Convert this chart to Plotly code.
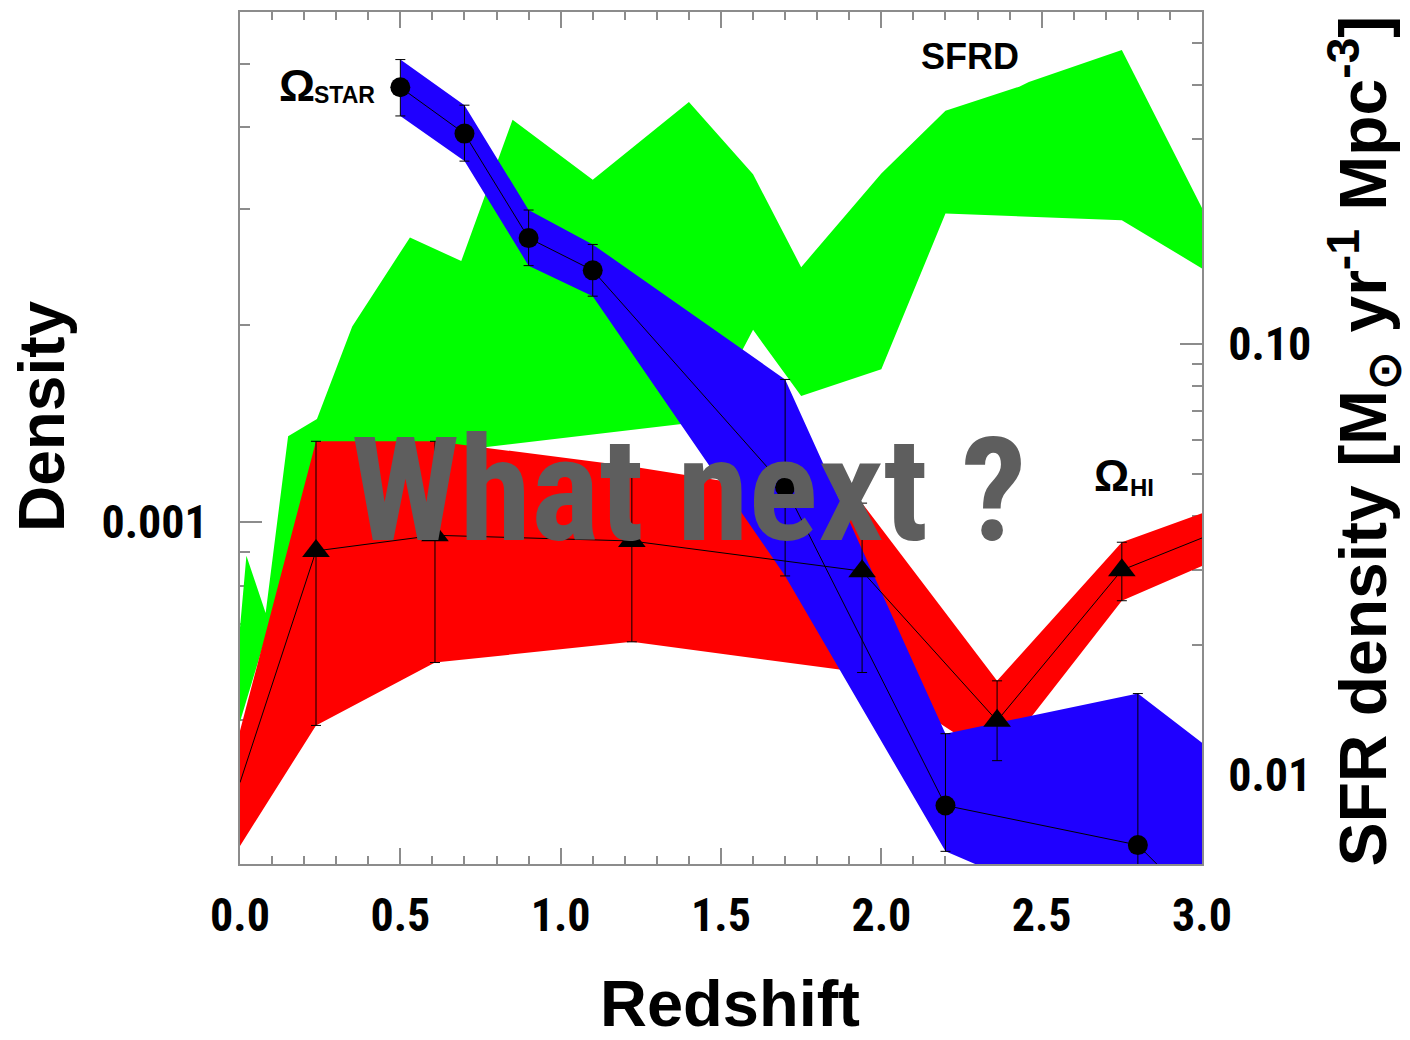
import plotly.graph_objects as go

# ---------------- data ----------------
# Omega_HI (red band, left "Density" axis)
hi_z   = [0.0, 0.237, 0.608, 1.222, 1.940, 2.361, 2.750, 3.0]
hi_mid = [0.000401, 0.000904, 0.000955, 0.000936, 0.000842, 0.000498, 0.000845, 0.000946]
hi_up  = [0.000481, 0.001328, 0.001328, 0.001216, 0.001069, 0.000573, 0.000932, 0.001032]
hi_lo  = [0.000321, 0.000490, 0.000611, 0.000657, 0.000590, 0.000433, 0.000759, 0.000857]
hi_first, hi_last = 1, 7          # points drawn with markers / error bars

# Omega_STAR (blue band, left "Density" axis)
star_z   = [0.5, 0.7, 0.9, 1.1, 1.7, 2.2, 2.8, 3.0]
star_mid = [0.00460, 0.00391, 0.00271, 0.00242, 0.00113, 0.000370, 0.000322, 0.000257]
star_up  = [0.00507, 0.00432, 0.00299, 0.00265, 0.00165, 0.000476, 0.000548, 0.000461]
star_lo  = [0.00416, 0.00355, 0.00246, 0.00221, 0.000828, 0.000315, 0.000236, 0.000214]
star_first, star_last = 0, 7

# SFRD (green band, right "SFR density" axis)
sfrd_up_z = [0.0, 0.02, 0.08, 0.15, 0.24, 0.35, 0.53, 0.69, 0.85, 1.10,
             1.40, 1.60, 1.75, 2.00, 2.20, 2.43, 2.46, 2.75, 3.00]
sfrd_up   = [0.0220, 0.0323, 0.0238, 0.0612, 0.0671, 0.110, 0.177, 0.156, 0.332, 0.241,
             0.365, 0.248, 0.151, 0.249, 0.348, 0.396, 0.406, 0.482, 0.207]
sfrd_lo_z = [0.0, 0.24, 1.45, 1.60, 1.75, 2.00, 2.20, 2.75, 3.00]
sfrd_lo   = [0.0133, 0.0519, 0.0663, 0.108, 0.0758, 0.0875, 0.201, 0.194, 0.150]

x_ticks = [0.0, 0.5, 1.0, 1.5, 2.0, 2.5, 3.0]
x_ticktext = ["0.0", "0.5", "1.0", "1.5", "2.0", "2.5", "3.0"]
dens_ticks = [0.001]
dens_ticktext = ["0.001"]
dens_minor = [0.0003, 0.0004, 0.0005, 0.0006, 0.0007, 0.0008, 0.0009,
              0.002, 0.003, 0.004, 0.005]
sfr_ticks = [0.01, 0.1]
sfr_ticktext = ["0.01", "0.10"]
sfr_minor = [0.007, 0.008, 0.009, 0.02, 0.03, 0.04, 0.05, 0.06, 0.07, 0.08, 0.09,
             0.2, 0.3, 0.4, 0.5]

# ---------------- styles ----------------
GREEN = "#00ff00"
RED = "#ff0000"
BLUE = "#1f00ff"
AXC = "#8c8c8c"
NARROW = "Roboto Condensed, Open Sans Condensed, DejaVu Sans Condensed, sans-serif"
SANS = "Liberation Sans, Arial, Helvetica, sans-serif"

fig = go.Figure()

# green SFRD band on the primary axis (drawn underneath)
fig.add_trace(go.Scatter(
    x=sfrd_up_z + sfrd_lo_z[::-1], y=sfrd_up + sfrd_lo[::-1],
    fill="toself", fillcolor=GREEN, mode="lines", line=dict(width=0),
    hoverinfo="skip", showlegend=False, xaxis="x", yaxis="y"))

def band(z, up, lo, color):
    fig.add_trace(go.Scatter(
        x=z + z[::-1], y=up + lo[::-1], fill="toself", fillcolor=color,
        mode="lines", line=dict(width=0), hoverinfo="skip",
        showlegend=False, xaxis="x", yaxis="y2"))

band(hi_z, hi_up, hi_lo, RED)
band(star_z, star_up, star_lo, BLUE)

def centre(z, mid, up, lo, a, b, symbol, size):
    fig.add_trace(go.Scatter(
        x=z, y=mid, mode="lines", line=dict(color="black", width=1),
        hoverinfo="skip", showlegend=False, xaxis="x", yaxis="y2"))
    zs, ms, us, ls = z[a:b], mid[a:b], up[a:b], lo[a:b]
    fig.add_trace(go.Scatter(
        x=zs, y=ms, mode="markers",
        marker=dict(symbol=symbol, size=size, color="black"),
        error_y=dict(type="data", symmetric=False,
                     array=[u - m for u, m in zip(us, ms)],
                     arrayminus=[m - l for m, l in zip(ms, ls)],
                     color="black", thickness=1, width=5),
        hoverinfo="skip", showlegend=False, xaxis="x", yaxis="y2"))

centre(hi_z, hi_mid, hi_up, hi_lo, hi_first, hi_last, "triangle-up", 24)
centre(star_z, star_mid, star_up, star_lo, star_first, star_last, "circle", 20)

tickfont = dict(family=NARROW, size=46, color="black", weight="bold")

fig.update_layout(
    width=1410, height=1040,
    margin=dict(l=240, r=208, t=10, b=176),
    paper_bgcolor="white", plot_bgcolor="white",
    showlegend=False,
    xaxis=dict(
        range=[0, 3], showgrid=False, zeroline=False,
        showline=True, linecolor=AXC, linewidth=2, mirror="ticks",
        ticks="inside", ticklen=16, tickwidth=1.5, tickcolor=AXC,
        tickvals=x_ticks, ticktext=x_ticktext, tickfont=tickfont,
        ticklabelstandoff=10, layer="below traces",
        minor=dict(dtick=0.1, ticks="inside", ticklen=8, tickwidth=1.5,
                   tickcolor=AXC, showgrid=False),
        anchor="y"),
    yaxis=dict(
        type="log", side="right",
        range=[-2.206, -0.229], showgrid=False, zeroline=False,
        showline=True, linecolor=AXC, linewidth=2,
        ticks="inside", ticklen=22, tickwidth=1.5, tickcolor=AXC,
        tickvals=sfr_ticks, ticktext=sfr_ticktext, tickfont=tickfont,
        ticklabelstandoff=15, layer="below traces",
        minor=dict(tickmode="array", tickvals=sfr_minor, ticks="inside",
                   ticklen=10, tickwidth=1.5, tickcolor=AXC, showgrid=False),
        anchor="x"),
    yaxis2=dict(
        type="log", side="left", overlaying="y",
        range=[-3.521, -2.2225], showgrid=False, zeroline=False,
        showline=True, linecolor=AXC, linewidth=2,
        ticks="inside", ticklen=22, tickwidth=1.5, tickcolor=AXC,
        tickvals=dens_ticks, ticktext=dens_ticktext, tickfont=tickfont,
        ticklabelstandoff=21, layer="below traces",
        minor=dict(tickmode="array", tickvals=dens_minor, ticks="inside",
                   ticklen=10, tickwidth=1.5, tickcolor=AXC, showgrid=False),
        anchor="x"),
)

def note(text, x, y, size, family=SANS, color="black", angle=0,
         xanchor="center", yanchor="middle"):
    fig.add_annotation(text=text, x=x, y=y, xref="paper", yref="paper",
                       showarrow=False, textangle=angle,
                       xanchor=xanchor, yanchor=yanchor,
                       font=dict(family=family, size=size, color=color,
                                 weight="bold"))

note("Density", -0.2058, 0.5258, 64, angle=-90)
note("Redshift", 0.5094, -0.164, 65)
note("SFR density [M<sub>⊙</sub> yr<sup>-1</sup> Mpc<sup>-3</sup>]",
     1.168, 0.4965, 66, angle=-90)
note("What next ?", 0.4657, 0.4391, 145, family=NARROW, color="#5e5e5e")
# Omega_STAR label (symbol + subscript)
note("Ω", 0.0380, 0.9137, 45, xanchor="left")
note("STAR", 0.0745, 0.9030, 23, xanchor="left")
# SFRD label
note("SFRD", 0.7588, 0.9475, 36)
# Omega_HI label
note("Ω", 0.8858, 0.4555, 44, xanchor="left")
note("HI", 0.9235, 0.4420, 24, xanchor="left")

fig.write_html("out.html")
